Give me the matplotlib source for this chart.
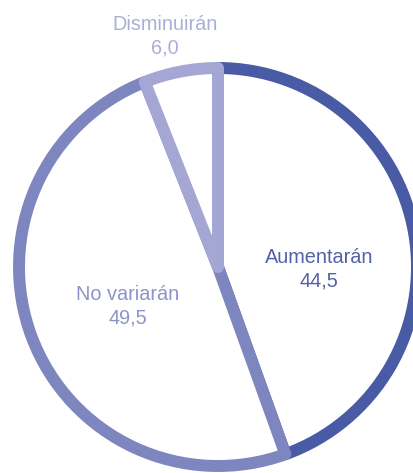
import matplotlib.pyplot as plt

labels = ["Aumentarán", "No variarán", "Disminuirán"]
values = [44.5, 49.5, 6.0]
edge_colors = ["#4a5ba5", "#7e86bf", "#a4a7d3"]
text_colors = ["#5262aa", "#8d94c9", "#abaed7"]

W, H = 414, 473
fig = plt.figure(figsize=(W / 100, H / 100), dpi=100)
ax = fig.add_axes([0, 0, 1, 1])

cx, cy, r = 218, H - 267, 199
wedges, _ = ax.pie(values, startangle=90, counterclock=False,
                   center=(cx, cy), radius=r, frame=True)
for w, c in zip(wedges, edge_colors):
    w.set_facecolor("white")
    w.set_edgecolor(c)
    w.set_linewidth(8.6)
    w.set_joinstyle("round")
    w.set_clip_on(False)
ax.set_xlim(0, W)
ax.set_ylim(0, H)
ax.set_aspect("equal")
ax.axis("off")

label_pos = [(319, H - 269), (128, H - 306), (165, H - 36)]
for lab, v, (x, y), tc in zip(labels, values, label_pos, text_colors):
    ax.text(x, y, f"{lab}\n{v:.1f}".replace(".", ","), ha="center", va="center",
            color=tc, fontsize=14.3, family="Liberation Sans",
            linespacing=1.3)

fig.savefig("out.png", dpi=100)
